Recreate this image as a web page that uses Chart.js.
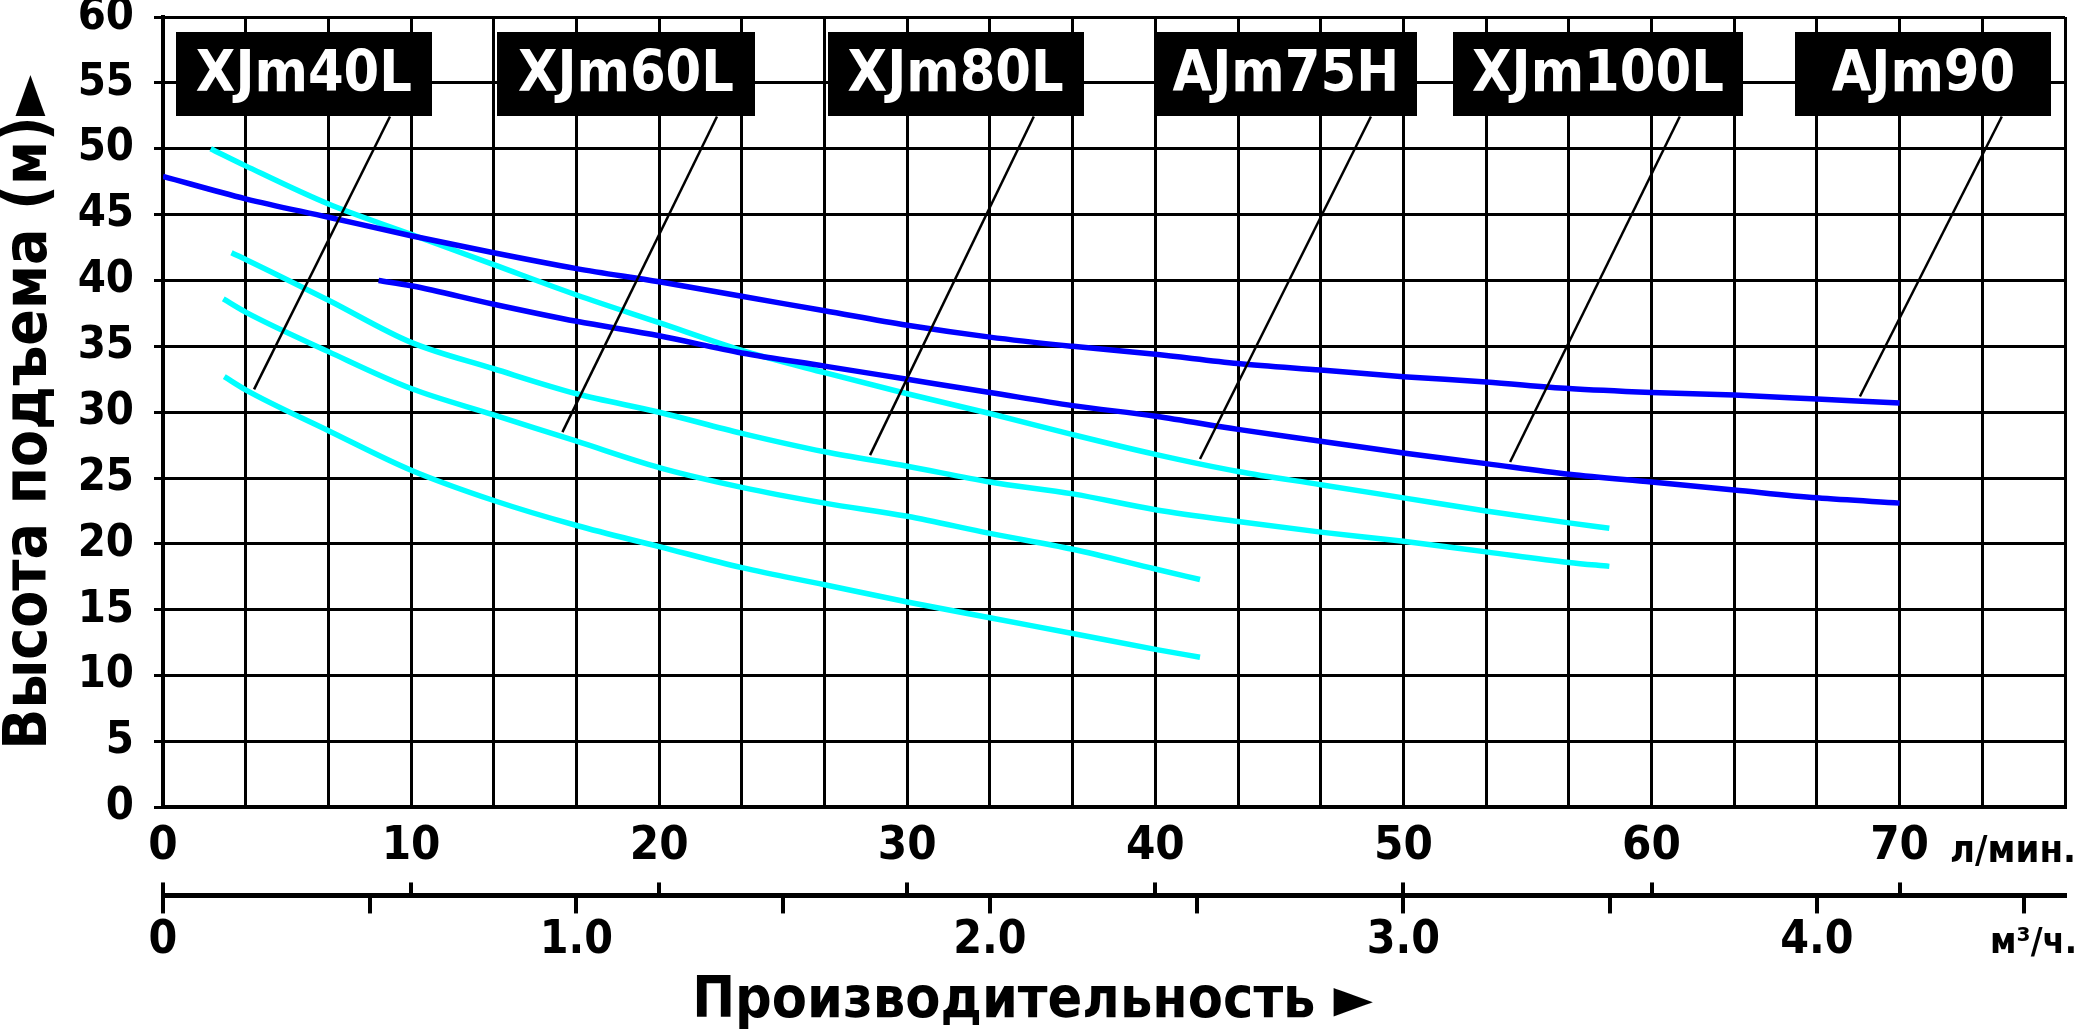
<!DOCTYPE html>
<html><head><meta charset="utf-8">
<script src="https://cdn.jsdelivr.net/npm/chart.js@4.4.1/dist/chart.umd.min.js"></script>
<style>html,body{margin:0;padding:0;background:#fff;}#wrap{width:2078px;height:1035px;}</style>
</head><body><div id="wrap"><canvas id="c" width="2078" height="1035"></canvas></div>
<script>
// ---------- DATA (flow in l/min, head in m) ----------
const seriesNames = ['XJm40L', 'XJm60L', 'XJm80L', 'AJm75H', 'XJm100L', 'AJm90'];

const xjm40lX = [2.47, 3.33, 6.67, 10, 13.33, 16.67, 20, 23.33, 26.67, 30, 33.33, 36.67, 40, 41.8];
const xjm40lY = [32.7, 31.7, 28.6, 25.6, 23.3, 21.4, 19.8, 18.2, 16.9, 15.6, 14.4, 13.2, 12.0, 11.4];

const xjm60lX = [2.43, 3.33, 6.67, 10, 13.33, 16.67, 20, 23.33, 26.67, 30, 33.33, 36.67, 40, 41.8];
const xjm60lY = [38.6, 37.6, 34.6, 31.8, 29.8, 27.8, 25.8, 24.3, 23.1, 22.1, 20.8, 19.6, 18.1, 17.3];

const xjm80lX = [2.76, 3.33, 6.67, 10, 13.33, 16.67, 20, 23.33, 26.67, 30, 33.33, 36.67, 40, 43.33, 46.67, 50, 53.33, 56.67, 58.3];
const xjm80lY = [42.1, 41.6, 38.5, 35.3, 33.3, 31.4, 30.0, 28.4, 27.0, 25.9, 24.7, 23.8, 22.6, 21.7, 20.9, 20.2, 19.4, 18.6, 18.3];

const ajm75hX = [1.92, 3.33, 6.67, 10, 13.33, 16.67, 20, 23.33, 26.67, 30, 33.33, 36.67, 40, 43.33, 46.67, 50, 53.33, 56.67, 58.3];
const ajm75hY = [50.0, 48.7, 45.8, 43.5, 41.2, 38.9, 36.8, 34.7, 33.0, 31.4, 29.9, 28.3, 26.8, 25.5, 24.5, 23.5, 22.5, 21.6, 21.2];

const xjm100lX = [8.69, 10, 13.33, 16.67, 20, 23.33, 26.67, 30, 33.33, 36.67, 40, 43.33, 46.67, 50, 53.33, 56.67, 60, 63.33, 66.67, 70];
const xjm100lY = [40.0, 39.6, 38.2, 36.9, 35.8, 34.5, 33.5, 32.5, 31.5, 30.5, 29.7, 28.7, 27.8, 26.9, 26.1, 25.3, 24.7, 24.1, 23.5, 23.1];

const ajm90X = [0, 3.33, 6.67, 10, 13.33, 16.67, 20, 23.33, 26.67, 30, 33.33, 36.67, 40, 43.33, 46.67, 50, 53.33, 56.67, 60, 63.33, 66.67, 70];
const ajm90Y = [47.9, 46.2, 44.8, 43.4, 42.1, 40.9, 39.9, 38.8, 37.7, 36.6, 35.7, 35.0, 34.4, 33.7, 33.2, 32.7, 32.3, 31.8, 31.5, 31.3, 31.0, 30.7];

// axis definitions
const flowMaxLpm = 230 / 3;          // 76.67 l/min = 4.6 m3/h
const flowMaxM3h = 4.6;
const lpmLabelTicks = [0, 10, 20, 30, 40, 50, 60, 70];
const m3hTicks = [0, 0.5, 1, 1.5, 2, 2.5, 3, 3.5, 4, 4.5];
const m3hLabelTicks = [0, 1, 2, 3, 4];
const headTicks = [0, 5, 10, 15, 20, 25, 30, 35, 40, 45, 50, 55, 60];

const xTitle = 'Производительность ►';
const yTitle = 'Высота подъема (м)►';
const lpmUnit = 'л/мин.';
const m3hUnit = 'м³/ч.';

// ---------- fonts ----------
function hasFont(name) {
  const c = document.createElement('canvas').getContext('2d');
  const t = 'Производительность XJm40L 0123456789';
  c.font = 'bold 100px monospace'; const a = c.measureText(t).width;
  c.font = 'bold 100px "' + name + '", monospace'; const b = c.measureText(t).width;
  return Math.abs(a - b) > 0.5;
}
let FAM = '"DejaVu Sans Condensed"', K = 1;
if (!hasFont('DejaVu Sans Condensed')) {
  if (hasFont('Liberation Sans Narrow')) { FAM = '"Liberation Sans Narrow"'; K = 1.05; }
  else { FAM = '"DejaVu Sans"'; K = 0.9; }
}
function fnt(size, lh) { return { family: FAM, size: Math.round(size * K), weight: 'bold', lineHeight: lh || 1.2 }; }

// ---------- datasets ----------
function pts(xs, ys) { return xs.map((x, i) => ({ x: x, y: ys[i] })); }
const seriesX = [xjm40lX, xjm60lX, xjm80lX, ajm75hX, xjm100lX, ajm90X];
const seriesY = [xjm40lY, xjm60lY, xjm80lY, ajm75hY, xjm100lY, ajm90Y];
const seriesColor = ['#00ffff', '#00ffff', '#00ffff', '#00ffff', '#0000ff', '#0000ff'];
const datasets = seriesNames.map((n, i) => ({
  label: n,
  data: pts(seriesX[i], seriesY[i]),
  borderColor: seriesColor[i],
  borderWidth: 5.5,
  pointRadius: 0,
  showLine: true,
  fill: false,
  cubicInterpolationMode: 'monotone',
  order: i >= 4 ? 0 : 1
}));

function interp(xs, ys, x) {
  for (let i = 0; i < xs.length - 1; i++) {
    if (x >= xs[i] && x <= xs[i + 1]) return ys[i] + (ys[i + 1] - ys[i]) * (x - xs[i]) / (xs[i + 1] - xs[i]);
  }
  return x < xs[0] ? ys[0] : ys[ys.length - 1];
}

// callout placement (data units)
const callouts = [
  { s: 0, cx: 5.68, topX: 9.15, endX: 3.67, w: 256 },
  { s: 1, cx: 18.66, topX: 22.33, endX: 16.1, w: 258 },
  { s: 2, cx: 31.95, topX: 35.1, endX: 28.5, w: 256 },
  { s: 3, cx: 45.26, topX: 48.69, endX: 41.8, w: 262 },
  { s: 4, cx: 57.84, topX: 61.14, endX: 54.3, w: 290 },
  { s: 5, cx: 70.96, topX: 74.12, endX: 68.4, w: 256 }
];
const boxTopY = 58.85, boxBottomY = 52.45;

const annot = {
  id: 'annot',
  afterDatasetsDraw(chart) {
    const c = chart.ctx, xs = chart.scales.x, ys = chart.scales.y;
    c.save();
    c.strokeStyle = '#000'; c.lineWidth = 2.5;
    callouts.forEach(o => {
      const yEnd = interp(seriesX[o.s], seriesY[o.s], o.endX) + 0.35;
      c.beginPath();
      c.moveTo(xs.getPixelForValue(o.topX), ys.getPixelForValue(boxBottomY));
      c.lineTo(xs.getPixelForValue(o.endX), ys.getPixelForValue(yEnd));
      c.stroke();
    });
    const f = fnt(57);
    c.font = 'bold ' + f.size + 'px ' + FAM;
    c.textAlign = 'center'; c.textBaseline = 'middle';
    callouts.forEach(o => {
      const cx = xs.getPixelForValue(o.cx);
      const t = ys.getPixelForValue(boxTopY), b = ys.getPixelForValue(boxBottomY);
      c.fillStyle = '#000';
      c.fillRect(Math.round(cx - o.w / 2), Math.round(t), o.w, Math.round(b - t));
      c.fillStyle = '#fff';
      c.fillText(seriesNames[o.s], cx, (t + b) / 2 + 2);
    });
    c.restore();
  },
  afterDraw(chart) {
    const c = chart.ctx, xs = chart.scales.x, x2 = chart.scales.x2;
    c.save();
    c.strokeStyle = '#000'; c.lineWidth = 4;
    lpmLabelTicks.forEach(v => {
      const px = Math.round(xs.getPixelForValue(v));
      c.beginPath(); c.moveTo(px, x2.top + 1); c.lineTo(px, x2.top - 13); c.stroke();
    });
    c.fillStyle = '#000'; c.textAlign = 'right'; c.textBaseline = 'middle';
    c.font = 'bold ' + fnt(38).size + 'px ' + FAM;
    c.fillText(lpmUnit, chart.width - 2, xs.top + 45);
    c.font = 'bold ' + fnt(36).size + 'px ' + FAM;
    c.fillText(m3hUnit, chart.width - 1, x2.top + 48);
    c.restore();
  }
};

new Chart(document.getElementById('c'), {
  type: 'scatter',
  data: { datasets: datasets },
  options: {
    responsive: false, devicePixelRatio: 1, animation: false,
    layout: { padding: { left: 0, right: 13, top: 0, bottom: 0 } },
    plugins: {
      legend: { display: false }, tooltip: { enabled: false },
      title: { display: true, position: 'bottom', text: xTitle, color: '#000', font: fnt(57, 1.15), padding: { top: 0, bottom: 0 } }
    },
    scales: {
      x: {
        type: 'linear', position: 'bottom', min: 0, max: flowMaxLpm,
        afterBuildTicks: a => { const t = []; for (let i = 0; i <= 23; i++) t.push({ value: i * 10 / 3 }); a.ticks = t; },
        ticks: {
          autoSkip: false, maxRotation: 0, minRotation: 0, padding: 11, color: '#000', font: fnt(47),
          callback: v => { const r = Math.round(v); return (Math.abs(v - r) < 1e-6 && lpmLabelTicks.includes(r)) ? String(r) : ''; }
        },
        grid: { color: '#000', lineWidth: 3, drawTicks: false },
        border: { color: '#000', width: 4 },
        afterFit: a => { a.height = 88; a.paddingLeft = 0; a.paddingRight = 0; }
      },
      x2: {
        type: 'linear', position: 'bottom', min: 0, max: flowMaxM3h,
        afterBuildTicks: a => { a.ticks = m3hTicks.map(v => ({ value: v })); },
        ticks: {
          autoSkip: false, maxRotation: 0, minRotation: 0, padding: 0, color: '#000', font: fnt(46),
          callback: v => m3hLabelTicks.includes(v) ? (v === 0 ? '0' : v.toFixed(1)) : ''
        },
        grid: { drawOnChartArea: false, color: '#000', lineWidth: 4, tickLength: 18 },
        border: { color: '#000', width: 5 },
        afterFit: a => { a.height = 74; a.paddingLeft = 0; a.paddingRight = 0; }
      },
      y: {
        type: 'linear', min: 0, max: 60,
        afterBuildTicks: a => { a.ticks = headTicks.map(v => ({ value: v })); },
        ticks: { autoSkip: false, padding: 20, color: '#000', font: fnt(45, 0.8) },
        grid: { color: '#000', lineWidth: 3, tickLength: 9 },
        border: { color: '#000', width: 4 },
        title: { display: true, text: yTitle, color: '#000', font: fnt(60, 1.0), padding: { top: 0, bottom: 0 } },
        afterFit: a => { a.width = 163; a.paddingTop = 17; a.paddingBottom = 17; }
      }
    }
  },
  plugins: [annot]
});
</script></body></html>
